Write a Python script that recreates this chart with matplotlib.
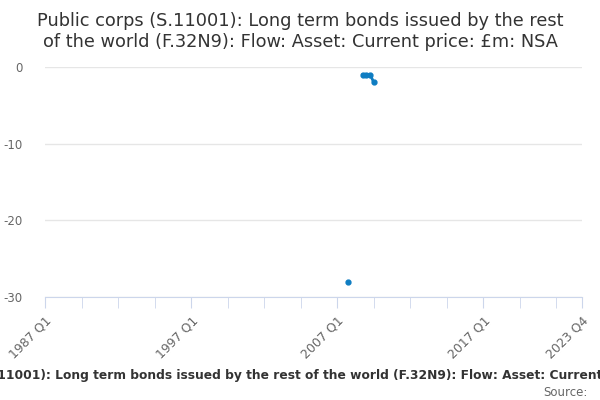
import numpy as np
import matplotlib.pyplot as plt
from matplotlib.ticker import FixedLocator

title = ('Public corps (S.11001): Long term bonds issued by the rest\n'
         'of the world (F.32N9): Flow: Asset: Current price: £m: NSA')
caption = ('Public corps (S.11001): Long term bonds issued by the rest of the world '
           '(F.32N9): Flow: Asset: Current price: £m: NSA')

# quarterly periods 1987 Q1 .. 2023 Q4
quarters = ['%d Q%d' % (y, q) for y in range(1987, 2024) for q in range(1, 5)]

# only a handful of observations exist, everything else is missing
obs_periods = ['2007 Q4', '2008 Q4', '2009 Q1', '2009 Q2', '2009 Q3']
obs_values = [-28, -1, -1, -1, -2]

tick_labels = ['1987 Q1', '1997 Q1', '2007 Q1', '2017 Q1', '2023 Q4']
y_ticks = [0, -10, -20, -30]

vals = np.full(len(quarters), np.nan)
for p, v in zip(obs_periods, obs_values):
    vals[quarters.index(p)] = v
x = np.arange(len(quarters))

fig = plt.figure(figsize=(6, 4), dpi=100)
ax = fig.add_axes([0.075, 0.2575, 0.895, 0.575])

ax.plot(x, vals, color='#0f7dc2', lw=2, marker='o', ms=3.5, clip_on=False, zorder=3)

ax.set_xlim(0, len(quarters) - 1)
ax.set_ylim(-30, 0)
ax.set_yticks(y_ticks)
ax.set_yticklabels([str(t) for t in y_ticks])
ax.yaxis.grid(True, color='#e6e6e6', lw=1)
ax.set_axisbelow(True)

ax.set_xticks([quarters.index(t) for t in tick_labels])
ax.set_xticklabels(tick_labels, rotation=45, ha='right', va='top', rotation_mode='anchor')
ax.xaxis.set_minor_locator(FixedLocator(np.arange(0, len(quarters), 10)))

for s in ['top', 'right', 'left']:
    ax.spines[s].set_visible(False)
ax.spines['bottom'].set_color('#ccd6eb')
ax.tick_params(axis='y', length=0, labelsize=8.5, labelcolor='#666666', pad=16)
ax.tick_params(axis='x', which='both', length=8, color='#ccd6eb', labelsize=9,
               labelcolor='#666666', pad=4)

fig.text(0.5, 0.97, title, ha='center', va='top', fontsize=12.8, color='#333333',
         linespacing=1.2)
fig.text(0.5, 0.06, caption, ha='center', va='center', fontsize=8.8,
         fontweight='bold', color='#333333')
fig.text(0.98, 0.02, 'Source:', ha='right', va='center', fontsize=8.5, color='#666666')

plt.savefig('out.png')
